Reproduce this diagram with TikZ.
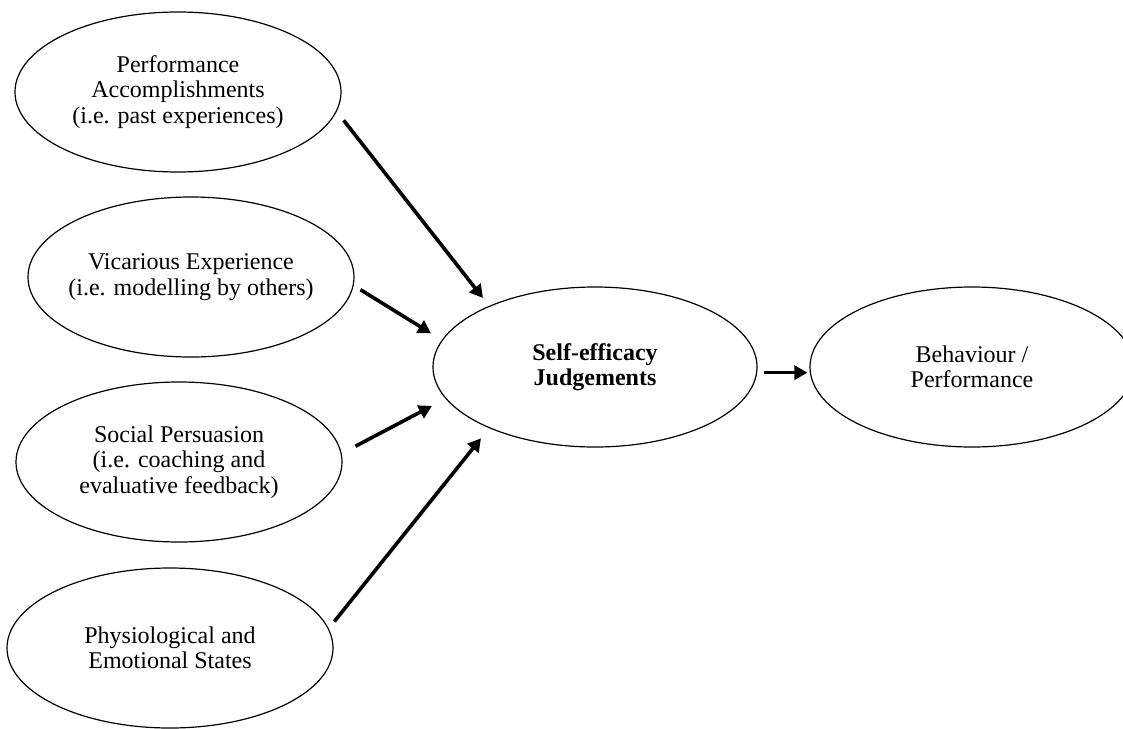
\documentclass[tikz,border=0pt]{standalone}
\usepackage{fontspec}
\setmainfont{Liberation Serif}
\usetikzlibrary{arrows.meta,shapes.geometric}

\begin{document}
\begin{tikzpicture}[x=0.5pt, y=-0.5pt]
  % \draw[help lines] (0,0) grid (1123,728);

  \tikzset{source node/.style={ellipse,draw,line width=0.6pt,minimum width=163pt,minimum height=80pt,
      inner sep=0pt,inner xsep=-12pt,align=center,font=\fontsize{12pt}{12.75pt}\selectfont}}
  \tikzset{judge node/.style={source node,minimum width=162pt,font=\fontsize{12pt}{12.75pt}\selectfont\bfseries}}
  \tikzset{link/.style={-{Triangle[length=6.5pt,width=7pt]},line width=1.8pt}}

  \clip (0,0) rectangle (1123,728);

  \path
    (178, 92) node[source node](perf) {Performance\\ Accomplishments\\ (i.e. past experiences)}
    (191, 277) node[source node](vic) {Vicarious Experience\\ (i.e. modelling by others)}
    (179, 462) node[source node](soc) {Social Persuasion\\ (i.e. coaching and\\ evaluative feedback)}
    (170, 648) node[source node](phys) {Physiological and\\ Emotional States}
    (595, 367) node[judge node](self) {Self-efficacy\\ Judgements}
    (972, 367) node[source node,minimum width=162pt](beh) {Behaviour /\\ Performance}
  ;

  \draw[link, shorten <=5.6pt, shorten >=5pt] (perf.-7) -- (self.150);
  \draw[link, shorten <=4pt, shorten >=6.3pt] (vic.-3) -- (self.170);
  \draw[link, shorten <=7.8pt, shorten >=7.7pt] (soc.3) -- (self.192);
  \draw[link, shorten <=4.5pt, shorten >=6.5pt] (phys.7) -- (self.210);
  \draw[link, shorten <=3.2pt, shorten >=1.2pt] (self.-2) -- (beh.182);

\end{tikzpicture}
\end{document}
